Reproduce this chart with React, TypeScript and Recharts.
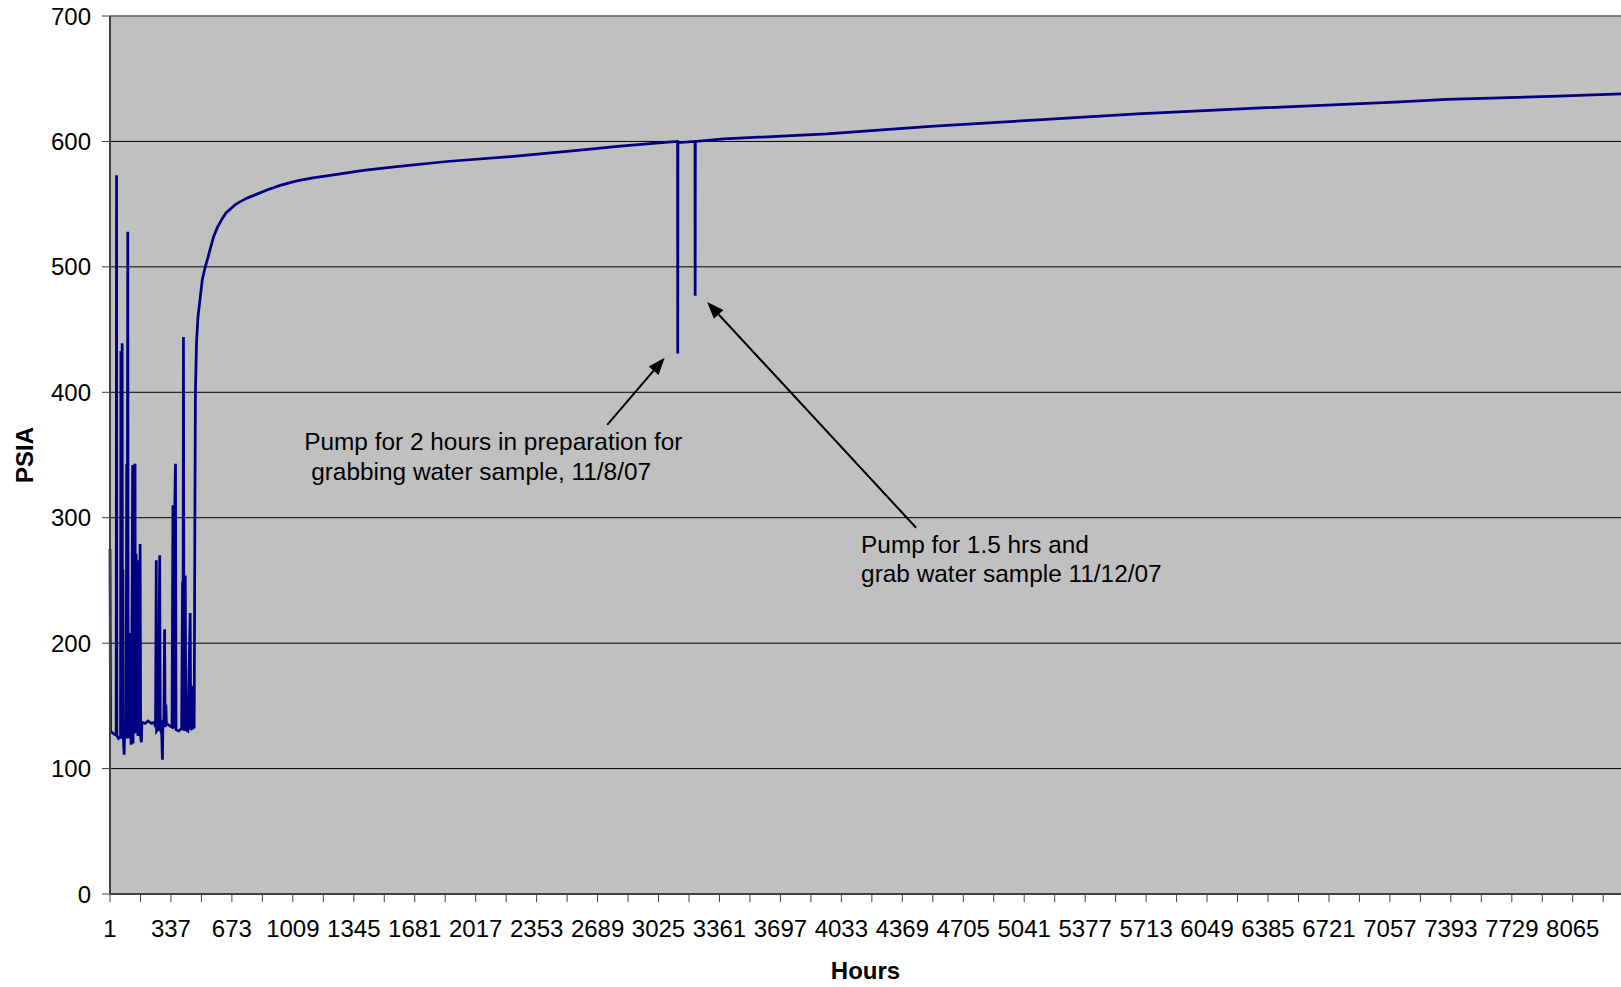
import { LineChart, Line, XAxis, YAxis, CartesianGrid, ReferenceLine, Label } from "recharts";

const FONT = "'Liberation Sans', Arial, Helvetica, sans-serif";

// hour index of each reading
const HOURS = [
  1, 4, 18, 30, 35, 37, 39, 48, 55, 59, 61, 63, 66, 68, 70, 72, 75, 79, 81, 90,
  93, 95, 99, 101, 110, 115, 117, 122, 126, 128, 133, 136, 139, 141, 145, 148,
  152, 155, 159, 162, 167, 170, 174, 177, 195, 210, 230, 245, 252, 256, 258,
  268, 275, 278, 286, 290, 293, 298, 302, 305, 309, 312, 330, 343, 348, 351,
  358, 362, 365, 380, 396, 401, 403, 406, 409, 416, 419, 430, 443, 446, 451,
  454, 465, 469, 472, 478, 486, 498, 510, 526, 540, 553, 572, 595, 618, 640,
  664, 690, 719, 760, 811, 870, 939, 1031, 1120, 1215, 1398, 1582, 1858, 2225,
  2593, 2800, 3043, 3130, 3131, 3132, 3226, 3227, 3228, 3385, 3954, 4524, 5094,
  5664, 6234, 6804, 7113, 7372, 7943, 8331,
];

// pressure, psia
const PSIA = [
  275, 130, 128, 127, 128, 573, 126, 124, 125, 126, 433, 124, 127, 439, 126,
  259, 124, 111, 127, 128, 343, 124, 528, 127, 125, 208, 119, 212, 342, 120,
  272, 341, 343, 128, 271, 130, 262, 126, 266, 127, 279, 125, 121, 137, 136,
  138, 136, 137, 133, 266, 130, 132, 270, 131, 128, 107, 139, 137, 211, 133,
  151, 136, 134, 133, 310, 132, 309, 343, 131, 130, 132, 249, 131, 444, 130,
  254, 131, 130, 224, 131, 166, 132, 133, 300, 400, 440, 460, 475, 490, 500,
  507, 514, 524, 532, 538, 543, 546, 549.5, 552, 555, 558, 561.5, 565, 568.5,
  571, 573, 577, 580, 584, 588, 593, 596, 599, 600, 431, 599, 600, 477, 600,
  602, 606, 612, 617, 622, 626, 629.5, 631.5, 633.5, 636, 638,
];

const X_LABELS = [
  1, 337, 673, 1009, 1345, 1681, 2017, 2353, 2689, 3025, 3361, 3697, 4033,
  4369, 4705, 5041, 5377, 5713, 6049, 6385, 6721, 7057, 7393, 7729, 8065,
];
const X_MINOR = [
  169, 505, 841, 1177, 1513, 1849, 2185, 2521, 2857, 3193, 3529, 3865, 4201,
  4537, 4873, 5209, 5545, 5881, 6217, 6553, 6889, 7225, 7561, 7897, 8233,
];
const Y_TICKS = [0, 100, 200, 300, 400, 500, 600, 700];

const NOTE_1 = ["Pump for 2 hours in preparation for", "grabbing water sample, 11/8/07"];
const NOTE_2 = ["Pump for 1.5 hrs and", "grab water sample 11/12/07"];

const data = HOURS.map((h, i) => ({ h, v: PSIA[i] }));
const xTicks = [...X_LABELS, ...X_MINOR].sort((a, b) => a - b);

function YTitle(props: any) {
  const vb = props.viewBox;
  const cx = vb.x + 24;
  const cy = vb.y + vb.height / 2;
  return (
    <text
      x={cx}
      y={cy}
      transform={`rotate(-90 ${cx} ${cy})`}
      textAnchor="middle"
      dominantBaseline="central"
      fontFamily={FONT}
      fontSize={24}
      fontWeight="bold"
      fill="#000"
    >
      PSIA
    </text>
  );
}

function XTitle(props: any) {
  const vb = props.viewBox;
  return (
    <text
      x={vb.x + vb.width / 2}
      y={vb.y + 85}
      textAnchor="middle"
      fontFamily={FONT}
      fontSize={24}
      fontWeight="bold"
      fill="#000"
    >
      Hours
    </text>
  );
}

// arrow from (x1,y1) to (x2,y2) with the note text placed near the tail
function arrowWithNote(lines: string[], offsets: number[][]) {
  return (props: any) => {
    const { x1, y1, x2, y2 } = props;
    const ang = Math.atan2(y2 - y1, x2 - x1);
    const len = 17;
    const half = 6.5;
    const bx = x2 - len * Math.cos(ang);
    const by = y2 - len * Math.sin(ang);
    const px = -Math.sin(ang) * half;
    const py = Math.cos(ang) * half;
    return (
      <g>
        <line x1={x1} y1={y1} x2={bx} y2={by} stroke="#000" strokeWidth={2} />
        <polygon
          points={`${x2},${y2} ${bx + px},${by + py} ${bx - px},${by - py}`}
          fill="#000"
        />
        {lines.map((t, i) => (
          <text
            key={i}
            x={x1 + offsets[i][0]}
            y={y1 + offsets[i][1]}
            fontFamily={FONT}
            fontSize={24.4}
            fill="#000"
          >
            {t}
          </text>
        ))}
      </g>
    );
  };
}

export default function App() {
  return (
    <div style={{ position: "absolute", left: 0, top: 0, width: 1621, height: 987, background: "#fff" }}>
      <LineChart
        width={1621}
        height={987}
        data={data}
        margin={{ top: 16, right: 0, bottom: 0, left: 0 }}
      >
        <CartesianGrid
          horizontal
          vertical={false}
          fill="#C0C0C0"
          fillOpacity={1}
          stroke="#000"
          strokeWidth={1}
        />
        <XAxis
          dataKey="h"
          type="number"
          domain={[1, 8331]}
          ticks={xTicks}
          interval={0}
          height={93}
          tickSize={8}
          tickMargin={18}
          tickFormatter={(v: number) => (X_LABELS.includes(v) ? String(v) : "")}
          tick={{ fill: "#000", fontSize: 24, fontFamily: FONT }}
          axisLine={{ stroke: "#404040", strokeWidth: 2 }}
          tickLine={{ stroke: "#404040", strokeWidth: 1 }}
        >
          <Label content={XTitle} />
        </XAxis>
        <YAxis
          type="number"
          domain={[0, 700]}
          ticks={Y_TICKS}
          interval={0}
          width={110}
          tickSize={8}
          tickMargin={11}
          tick={{ fill: "#000", fontSize: 24, fontFamily: FONT }}
          axisLine={{ stroke: "#404040", strokeWidth: 2 }}
          tickLine={{ stroke: "#404040", strokeWidth: 1 }}
        >
          <Label content={YTitle} />
        </YAxis>
        <ReferenceLine y={700} stroke="#808080" strokeWidth={1.5} />
        <Line
          type="linear"
          dataKey="v"
          stroke="#000080"
          strokeWidth={2.75}
          dot={false}
          activeDot={false}
          isAnimationActive={false}
        />
        <ReferenceLine
          segment={[{ x: 2742, y: 374 }, { x: 3059, y: 427.5 }]}
          shape={arrowWithNote(NOTE_1, [[-303, 25.5], [-296, 55.5]])}
        />
        <ReferenceLine
          segment={[{ x: 4445, y: 292 }, { x: 3293, y: 472 }]}
          shape={arrowWithNote(NOTE_2, [[-55, 25.5], [-55, 54.5]])}
        />
      </LineChart>
    </div>
  );
}
